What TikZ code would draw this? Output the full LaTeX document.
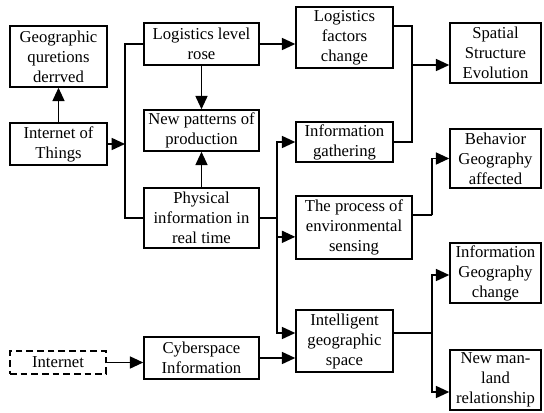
\documentclass[tikz,border=0pt]{standalone}
\usepackage{fontspec}
\setmainfont{Liberation Serif}
\usetikzlibrary{arrows.meta}

\tikzstyle{element}=[rectangle, draw, line width=1.1pt, align=center,
                     inner sep=0pt, font=\fontsize{12.5}{15}\selectfont]
\tikzstyle{link}=[line width=1.2pt, -{Triangle[length=10pt, width=9pt]}]
\tikzstyle{plain}=[line width=1.2pt]

\begin{document}
\begin{tikzpicture}[x=0.75pt, y=-0.75pt]
\useasboundingbox (0, 0) rectangle (544, 412);
%%%%%%%%%%%%%%%%%%%%%%%%%%%%%%
% nodes

% left column
\node (geo) at (58.5, 56.5) [element, minimum width=72.75pt, minimum height=45.75pt] {Geographic\\quretions\\derrved};

\node (iot) at (58.5, 144) [element, minimum width=72.75pt, minimum height=31.5pt] {Internet of\\Things};

\node (internet) at (58, 362.5) [element, dash pattern=on 5pt off 3pt, minimum width=72pt, minimum height=17.25pt] {Internet};

% second column
\node (lrose) at (201.5, 44) [element, minimum width=86.25pt, minimum height=31.5pt] {Logistics level\\rose};

\node (newpat) at (201.5, 130.5) [element, minimum width=86.25pt, minimum height=30.75pt] {New patterns of\\production};

\node (phys) at (201.5, 218) [element, minimum width=86.25pt, minimum height=45pt] {Physical\\information in\\real time};

\node (cyber) at (201.5, 358) [element, minimum width=86.25pt, minimum height=31.5pt] {Cyberspace\\Information};

% third column
\node (lfact) at (344.5, 37.5) [element, minimum width=72.75pt, minimum height=45.75pt] {Logistics\\factors\\change};

\node (infog) at (344.5, 142) [element, minimum width=72.75pt, minimum height=30pt] {Information\\gathering};

\node (process) at (354, 227.5) [element, minimum width=87pt, minimum height=47.25pt] {The process of\\environmental\\sensing};

\node (intel) at (344.5, 341) [element, minimum width=72.75pt, minimum height=46.5pt] {Intelligent\\geographic\\space};

% right column
\node (spatial) at (495.5, 53) [element, minimum width=68.25pt, minimum height=45pt] {Spatial\\Structure\\Evolution};

\node (behav) at (495.5, 158.5) [element, minimum width=68.25pt, minimum height=44.25pt] {Behavior\\Geography\\affected};

\node (infogeo) at (495.5, 273) [element, minimum width=68.25pt, minimum height=45pt] {Information\\Geography\\change};

\node (newman) at (495.5, 380) [element, minimum width=68.25pt, minimum height=45pt] {New man-\\land\\relationship};

%%%%%%%%%%%%%%%%%%%%%%%%%%%%%%
% links

\coordinate (bus_iot) at (125, 144);
\coordinate (join_sp) at (412, 65);
\coordinate (bus_phys) at (277, 218);
\coordinate (bus_proc) at (432, 215);
\coordinate (bus_intel) at (432, 333);

% left
\draw [link] (iot) -- (geo);
\draw [link] (iot) -- (bus_iot);
\draw [plain] (lrose.west) -| (bus_iot) |- (phys.west);
\draw [link] (lrose) -- (newpat);
\draw [link] (phys) -- (newpat);
\draw [link] (internet) -- (internet -| cyber.west);

% middle
\draw [link] (lrose.east) -- (lrose.east -| lfact.west);
\draw [plain] (phys.east) -- (bus_phys);
\draw [link] (bus_phys) |- (infog.west);
\draw [link] (bus_phys) |- ([yshift=-7pt]process.west);
\draw [link] (bus_phys) |- ([yshift=6pt]intel.west);
\draw [link] (cyber.east) -- (cyber.east -| intel.west);

% right
\draw [plain] ([yshift=8.6pt]lfact.east) -| (join_sp) |- (infog.east);
\draw [link] (join_sp) -- (join_sp -| spatial.west);
\draw [plain] ([yshift=9.4pt]process.east) -- (bus_proc);
\draw [link] (bus_proc) |- (behav.west);
\draw [plain] ([yshift=6pt]intel.east) -- (bus_intel);
\draw [link] (bus_intel) |- ([yshift=-1.5pt]infogeo.west);
\draw [link] (bus_intel) |- ([yshift=-9pt]newman.west);

\end{tikzpicture}
\end{document}
